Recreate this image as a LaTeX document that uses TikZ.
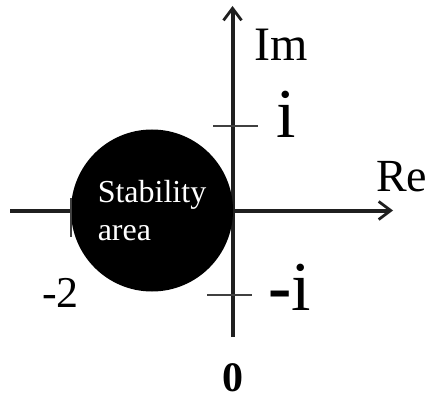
\documentclass[tikz,border=0pt]{standalone}
\usepackage{fontspec}
\setmainfont{Liberation Serif}
\usetikzlibrary{arrows.meta}

\begin{document}
\begin{tikzpicture}[x=1pt, y=-1pt,
    axis/.style={line width=4pt, draw=black!88, -{Straight Barb[length=12pt, width=18pt, line width=2.8pt]}},
    tick/.style={line width=1.5pt, draw=black!75},
    lbl/.style={inner sep=0pt, anchor=base west}
  ]
    \useasboundingbox (0,0) rectangle (429,396);

    % Axes end points
    \coordinate (west) at (10,210.5);
    \coordinate (east) at (393,210.5);
    \coordinate (south) at (232.5,337);
    \coordinate (north) at (232.5,6);

    % Axes
    \draw[axis] (west) -- (east);
    \draw[axis] (south) -- (north);

    % Stability disc
    \node[circle, fill=black, minimum size=162pt, inner sep=0pt, text=white,
          align=left, font=\fontsize{32}{38}\selectfont] (stab) at (152,210.5)
      {Stability\\area};

    % Ticks
    \coordinate (ia) at (213,126);
    \coordinate (ib) at (258,126);
    \coordinate (ma) at (207,295);
    \coordinate (mb) at (252,295);
    \coordinate (ta) at (71,198);
    \coordinate (tb) at (71,237);
    \draw[tick] (ia) -- (ib);
    \draw[tick] (ma) -- (mb);
    \draw[tick] (ta) -- (tb);

    % Labels
    \node[lbl, font=\fontsize{48}{48}\selectfont] (im) at (254,61) {Im};
    \node[lbl, font=\fontsize{46}{46}\selectfont] (re) at (376,191) {Re};
    \node[lbl, font=\fontsize{70}{70}\selectfont] (pi) at (276,138) {i};
    \node[lbl, font=\fontsize{70}{70}\selectfont] (mi) at (268,310) {\textbf{-}i};
    \node[lbl, font=\fontsize{44}{44}\selectfont] (m2) at (42,307) {-2};
    \node[inner sep=0pt, anchor=base, font=\fontsize{42}{42}\selectfont\bfseries] (zero) at (232.5,391) {0};
  \end{tikzpicture}
\end{document}
